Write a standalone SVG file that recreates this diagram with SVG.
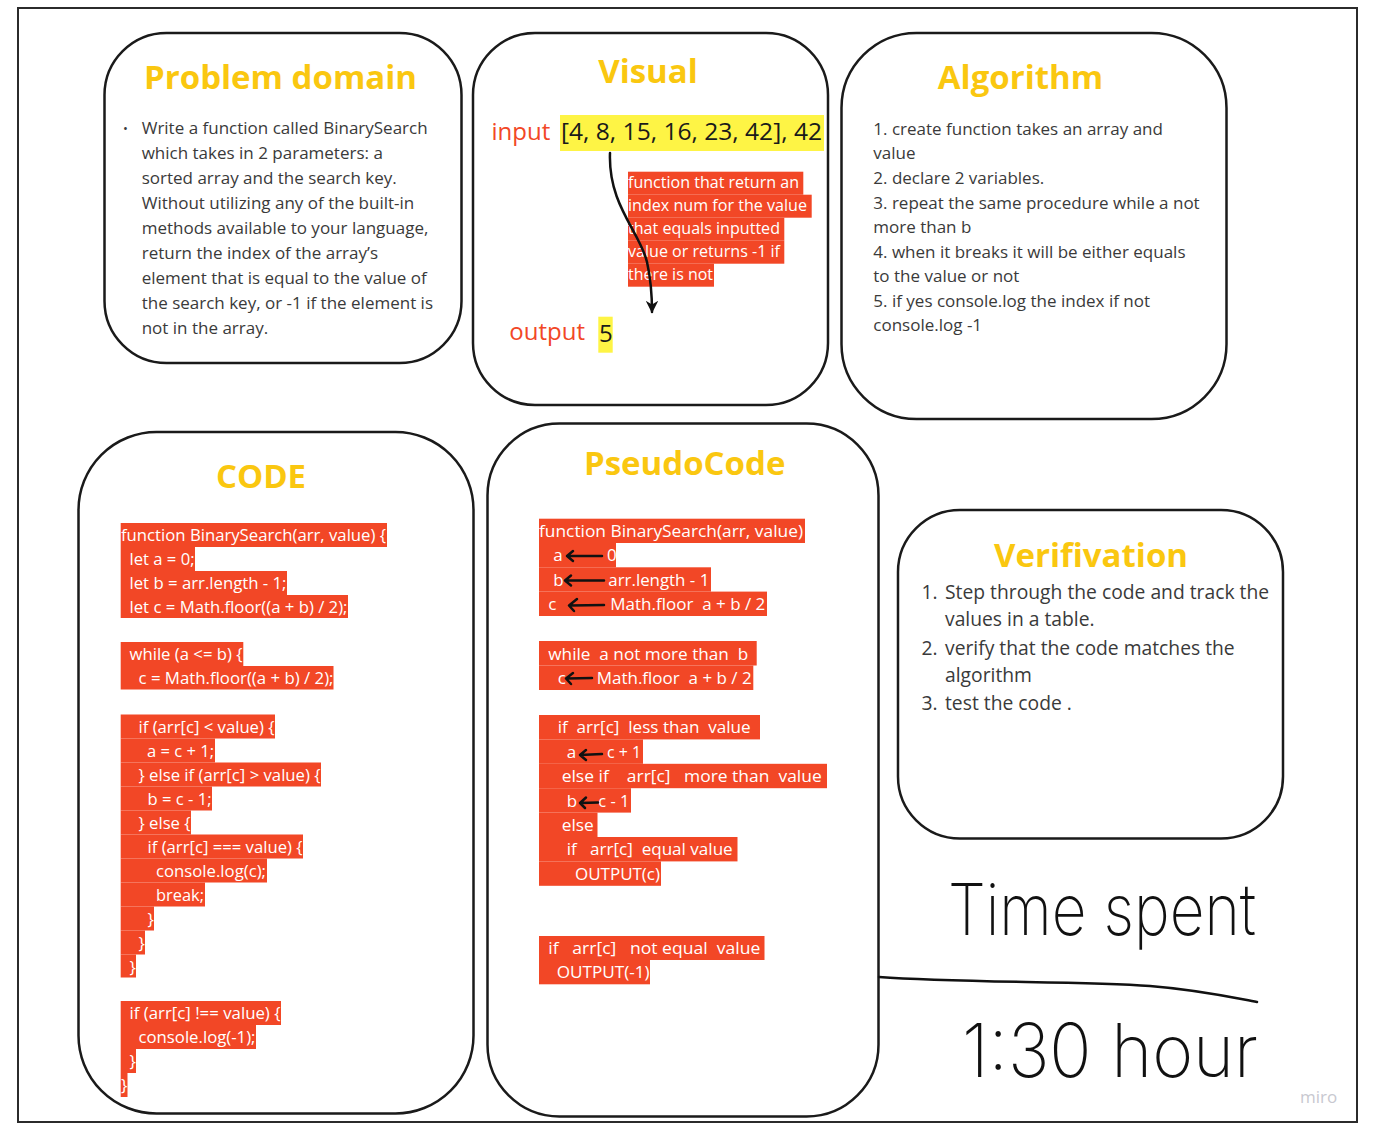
<svg xmlns="http://www.w3.org/2000/svg" width="1375" height="1135" viewBox="0 0 1375 1135">
<style>
.frame{fill:#fff;stroke:#2b2b2b;stroke-width:2}
.box{fill:#fff;stroke:#1a1a1a;stroke-width:2.5}
.title{font-family:"Open Sans","Liberation Sans",sans-serif;font-weight:700;font-size:33px;fill:#fac710;text-anchor:middle}
.body{font-family:"Open Sans","Liberation Sans",sans-serif;font-size:17px;fill:#3a3a3a}
.ver{font-family:"Open Sans","Liberation Sans",sans-serif;font-size:19.3px;fill:#3a3a3a}
.hl{fill:#f24726}
.ct{font-family:"Open Sans","Liberation Sans",sans-serif;font-size:17px;fill:#fff;white-space:pre}
.vt{font-family:"Open Sans","Liberation Sans",sans-serif;font-size:16px;fill:#fff;white-space:pre}
.big{font-family:"Open Sans","Liberation Sans",sans-serif;font-size:24px}
.pa{stroke:#111;stroke-width:2.5;fill:none;stroke-linecap:round;stroke-linejoin:round}
.hand{font-family:Inter,"DejaVu Sans",sans-serif;font-weight:200;fill:#111}
.ink{stroke:#111;stroke-width:2.5;fill:none;stroke-linecap:round}
</style>
<defs>
<marker id="ah" viewBox="0 0 10 10" refX="9" refY="5" markerWidth="5" markerHeight="5" orient="auto" markerUnits="strokeWidth">
<path d="M0,0 L10,5 L0,10 L3,5 z" fill="#111"/>
</marker>
</defs>
<rect class="frame" x="18" y="8" width="1339" height="1114"/>

<g id="problem-domain">
<rect class="box" x="104.5" y="33" width="357" height="330" rx="62"/>
<text class="title" x="280.5" y="89">Problem domain</text>
<text class="body" x="123" y="133" style="font-size:13px">•</text>
<text class="body" x="141.7" y="134">Write a function called BinarySearch</text>
<text class="body" x="141.7" y="159">which takes in 2 parameters: a</text>
<text class="body" x="141.7" y="184">sorted array and the search key.</text>
<text class="body" x="141.7" y="209">Without utilizing any of the built-in</text>
<text class="body" x="141.7" y="234">methods available to your language,</text>
<text class="body" x="141.7" y="259">return the index of the array’s</text>
<text class="body" x="141.7" y="284">element that is equal to the value of</text>
<text class="body" x="141.7" y="309">the search key, or -1 if the element is</text>
<text class="body" x="141.7" y="334">not in the array.</text>
</g>

<g id="visual">
<rect class="box" x="473" y="33" width="355" height="372" rx="62"/>
<text class="title" x="648" y="83">Visual</text>
<text class="big" x="491.5" y="140" fill="#f24726">input</text>
<rect x="560" y="115" width="264" height="36" fill="#fef445"/>
<text class="big" x="561" y="140" fill="#1a1a1a" textLength="261" lengthAdjust="spacingAndGlyphs">[4, 8, 15, 16, 23, 42], 42</text>
<rect class="hl" x="628" y="171.7" width="175.3" height="23"/>
<rect class="hl" x="628" y="194.7" width="183.7" height="23"/>
<rect class="hl" x="628" y="217.7" width="156.3" height="23"/>
<rect class="hl" x="628" y="240.7" width="156.3" height="23"/>
<rect class="hl" x="628" y="263.7" width="86" height="23"/>
<text class="vt" x="628" y="188.4" textLength="171" lengthAdjust="spacingAndGlyphs">function that return an</text>
<text class="vt" x="628" y="211.4" textLength="179" lengthAdjust="spacingAndGlyphs">index num for the value</text>
<text class="vt" x="628" y="234.4" textLength="152" lengthAdjust="spacingAndGlyphs">that equals inputted</text>
<text class="vt" x="628" y="257.4" textLength="152" lengthAdjust="spacingAndGlyphs">value or returns -1 if</text>
<text class="vt" x="628" y="280.4" textLength="85" lengthAdjust="spacingAndGlyphs">there is not</text>
<text class="big" x="509.3" y="340" fill="#f24726">output</text>
<rect x="598.3" y="316.7" width="14.4" height="36" fill="#fef445"/>
<text class="big" x="599" y="342" fill="#1a1a1a">5</text>
</g>

<g id="algorithm">
<rect class="box" x="841.5" y="33" width="385" height="386" rx="75"/>
<text class="title" x="1020.5" y="88.5">Algorithm</text>
<text class="body" x="873.3" y="134.5">1. create function takes an array and</text>
<text class="body" x="873.3" y="159">value</text>
<text class="body" x="873.3" y="183.5">2. declare 2 variables.</text>
<text class="body" x="873.3" y="208.5">3. repeat the same procedure while a not</text>
<text class="body" x="873.3" y="233">more than b</text>
<text class="body" x="873.3" y="257.5">4. when it breaks it will be either equals</text>
<text class="body" x="873.3" y="282">to the value or not</text>
<text class="body" x="873.3" y="306.5">5. if yes console.log the index if not</text>
<text class="body" x="873.3" y="331">console.log -1</text>
</g>

<g id="code">
<rect class="box" x="78.5" y="432" width="395" height="681.5" rx="78"/>
<text class="title" x="261" y="487.5">CODE</text>
<rect class="hl" x="120.7" y="523" width="266.3" height="24"/>
<rect class="hl" x="120.7" y="547" width="74.3" height="24"/>
<rect class="hl" x="120.7" y="571" width="166.3" height="24"/>
<rect class="hl" x="120.7" y="595" width="227.3" height="23"/>
<text class="ct" x="121" y="541" textLength="265" lengthAdjust="spacingAndGlyphs">function BinarySearch(arr, value) {</text>
<text class="ct" x="129.5" y="565" textLength="65" lengthAdjust="spacingAndGlyphs">let a = 0;</text>
<text class="ct" x="129.5" y="589" textLength="157" lengthAdjust="spacingAndGlyphs">let b = arr.length - 1;</text>
<text class="ct" x="129.5" y="613" textLength="218" lengthAdjust="spacingAndGlyphs">let c = Math.floor((a + b) / 2);</text>

<rect class="hl" x="120.7" y="642" width="122.6" height="24"/>
<rect class="hl" x="120.7" y="666" width="212.8" height="23.5"/>
<text class="ct" x="129.5" y="660" textLength="113" lengthAdjust="spacingAndGlyphs">while (a &lt;= b) {</text>
<text class="ct" x="138.5" y="684" textLength="195" lengthAdjust="spacingAndGlyphs">c = Math.floor((a + b) / 2);</text>

<rect class="hl" x="120.7" y="714.5" width="154.3" height="24"/>
<rect class="hl" x="120.7" y="738.5" width="94.3" height="24"/>
<rect class="hl" x="120.7" y="762.5" width="200.3" height="24"/>
<rect class="hl" x="120.7" y="786.5" width="91.3" height="24"/>
<rect class="hl" x="120.7" y="810.5" width="70.3" height="24"/>
<rect class="hl" x="120.7" y="834.5" width="182.3" height="24"/>
<rect class="hl" x="120.7" y="858.5" width="146.3" height="24"/>
<rect class="hl" x="120.7" y="882.5" width="84.3" height="24"/>
<rect class="hl" x="120.7" y="906.5" width="33.3" height="24"/>
<rect class="hl" x="120.7" y="930.5" width="24.3" height="24"/>
<rect class="hl" x="120.7" y="954.5" width="15.3" height="23"/>
<text class="ct" x="138.5" y="732.5" textLength="136" lengthAdjust="spacingAndGlyphs">if (arr[c] &lt; value) {</text>
<text class="ct" x="147" y="756.5" textLength="67" lengthAdjust="spacingAndGlyphs">a = c + 1;</text>
<text class="ct" x="138.5" y="780.5" textLength="182" lengthAdjust="spacingAndGlyphs">} else if (arr[c] &gt; value) {</text>
<text class="ct" x="147.5" y="804.5" textLength="64" lengthAdjust="spacingAndGlyphs">b = c - 1;</text>
<text class="ct" x="138.5" y="828.5" textLength="52" lengthAdjust="spacingAndGlyphs">} else {</text>
<text class="ct" x="147.5" y="852.5" textLength="155" lengthAdjust="spacingAndGlyphs">if (arr[c] === value) {</text>
<text class="ct" x="156" y="876.5" textLength="110" lengthAdjust="spacingAndGlyphs">console.log(c);</text>
<text class="ct" x="156" y="900.5" textLength="48" lengthAdjust="spacingAndGlyphs">break;</text>
<text class="ct" x="147.5" y="924.5">}</text>
<text class="ct" x="138.5" y="948.5">}</text>
<text class="ct" x="129.5" y="972.5">}</text>

<rect class="hl" x="120.7" y="1001" width="160.3" height="24"/>
<rect class="hl" x="120.7" y="1025" width="135.3" height="24"/>
<rect class="hl" x="120.7" y="1049" width="15.3" height="24"/>
<rect class="hl" x="120.7" y="1073" width="6.8" height="24"/>
<text class="ct" x="129.5" y="1019" textLength="151" lengthAdjust="spacingAndGlyphs">if (arr[c] !== value) {</text>
<text class="ct" x="138.5" y="1043" textLength="117" lengthAdjust="spacingAndGlyphs">console.log(-1);</text>
<text class="ct" x="129.5" y="1067">}</text>
<text class="ct" x="121" y="1091">}</text>
</g>

<g id="pseudocode">
<rect class="box" x="487.5" y="423.5" width="391" height="693" rx="72"/>
<text class="title" x="684.7" y="474.5">PseudoCode</text>
<rect class="hl" x="539" y="518.7" width="266" height="24.3"/>
<rect class="hl" x="539" y="543" width="77" height="24.3"/>
<rect class="hl" x="539" y="567.3" width="172" height="24.3"/>
<rect class="hl" x="539" y="591.6" width="228" height="24.4"/>
<text class="ct" x="539" y="537" textLength="264" lengthAdjust="spacingAndGlyphs">function BinarySearch(arr, value)</text>
<text class="ct" x="553.3" y="561.3">a</text>
<text class="ct" x="607" y="561.3">0</text>
<text class="ct" x="553.3" y="585.6">b</text>
<text class="ct" x="608.3" y="585.6" textLength="101" lengthAdjust="spacingAndGlyphs">arr.length - 1</text>
<text class="ct" x="548.3" y="610">c</text>
<text class="ct" x="610.3" y="610" textLength="155" lengthAdjust="spacingAndGlyphs">Math.floor  a + b / 2</text>

<rect class="hl" x="539" y="641" width="217.7" height="24.5"/>
<rect class="hl" x="539" y="665.5" width="214.3" height="24.5"/>
<text class="ct" x="548.3" y="659.5" textLength="200" lengthAdjust="spacingAndGlyphs">while  a not more than  b</text>
<text class="ct" x="557.7" y="684">c</text>
<text class="ct" x="596.7" y="684" textLength="155" lengthAdjust="spacingAndGlyphs">Math.floor  a + b / 2</text>

<rect class="hl" x="539" y="715" width="221" height="24.4"/>
<rect class="hl" x="539" y="739.4" width="104" height="24.4"/>
<rect class="hl" x="539" y="763.8" width="288" height="24.4"/>
<rect class="hl" x="539" y="788.2" width="92" height="24.4"/>
<rect class="hl" x="539" y="812.6" width="58.5" height="24.4"/>
<rect class="hl" x="539" y="837" width="198.5" height="24.4"/>
<rect class="hl" x="539" y="861.4" width="122" height="24.4"/>
<text class="ct" x="557.7" y="733.4" textLength="193" lengthAdjust="spacingAndGlyphs">if  arr[c]  less than  value</text>
<text class="ct" x="566.7" y="757.8">a</text>
<text class="ct" x="607" y="757.8" textLength="34" lengthAdjust="spacingAndGlyphs">c + 1</text>
<text class="ct" x="561.7" y="782.2" textLength="260" lengthAdjust="spacingAndGlyphs">else if    arr[c]   more than  value</text>
<text class="ct" x="566.7" y="806.6">b</text>
<text class="ct" x="598.3" y="806.6" textLength="31" lengthAdjust="spacingAndGlyphs">c - 1</text>
<text class="ct" x="561.7" y="831" textLength="32" lengthAdjust="spacingAndGlyphs">else</text>
<text class="ct" x="566.7" y="855.4" textLength="166" lengthAdjust="spacingAndGlyphs">if   arr[c]  equal value</text>
<text class="ct" x="575" y="879.8" textLength="85" lengthAdjust="spacingAndGlyphs">OUTPUT(c)</text>

<rect class="hl" x="539" y="936" width="225.5" height="24"/>
<rect class="hl" x="539" y="960" width="111" height="24.3"/>
<text class="ct" x="548.3" y="954" textLength="212" lengthAdjust="spacingAndGlyphs">if   arr[c]   not equal  value</text>
<text class="ct" x="556.7" y="978.3" textLength="93" lengthAdjust="spacingAndGlyphs">OUTPUT(-1)</text>

<path class="pa" d="M602,556 L567,556 M573,551 L567,556 L573,561"/>
<path class="pa" d="M604,580.5 L565,580.5 M571,575.5 L565,580.5 L571,585.5"/>
<path class="pa" d="M604,605 L570,605.5 M577,599 L569,605.5 L574,611"/>
<path class="pa" d="M592,678 L567,678.5 M573,673 L566,678.5 L571,684"/>
<path class="pa" d="M602,754 L580,755 M586,750 L580,755 L586,760"/>
<path class="pa" d="M598,802.5 L580,803 M586,797.5 L580,803 L585,808"/>
</g>

<g id="verification">
<rect class="box" x="898" y="510" width="385" height="328.5" rx="62"/>
<text class="title" x="1091" y="566.5">Verifivation</text>
<text class="ver" x="921.5" y="598.5">1.</text>
<text class="ver" x="945" y="598.5">Step through the code and track the</text>
<text class="ver" x="945" y="626">values in a table.</text>
<text class="ver" x="921.5" y="654.5">2.</text>
<text class="ver" x="945" y="654.5">verify that the code matches the</text>
<text class="ver" x="945" y="682">algorithm</text>
<text class="ver" x="921.5" y="709.5">3.</text>
<text class="ver" x="945" y="709.5">test the code .</text>
</g>

<g id="time-spent">
<text class="hand" x="948" y="935" font-size="72" textLength="308" lengthAdjust="spacingAndGlyphs">Time spent</text>
<text class="hand" x="962" y="1077" font-size="74" textLength="296" lengthAdjust="spacingAndGlyphs">1:30 hour</text>
</g>

<g id="connectors">
<path class="pa" d="M610,153 C608,205 640,232 647,262 C651,280 652,292 652,312" marker-end="url(#ah)"/>
<path class="ink" d="M879,977 C960,983 1080,981 1150,986 C1200,990 1235,998 1257,1002"/>
</g>

<text x="1300" y="1103" font-family="'Open Sans','Liberation Sans',sans-serif" font-size="17" fill="#c8c8d0">miro</text>
</svg>
